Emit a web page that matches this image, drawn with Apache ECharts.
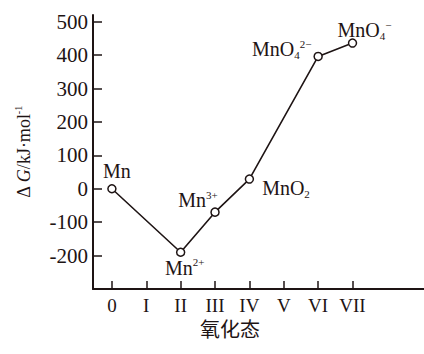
<!DOCTYPE html>
<html><head><meta charset="utf-8">
<script src="https://cdn.jsdelivr.net/npm/echarts@6/dist/echarts.min.js"></script>
<style>html,body{margin:0;padding:0;background:#fff}#c{width:424px;height:354px}</style>
</head><body><div id="c"></div>
<script>
const oxidationStates = [0, 2, 3, 4, 6, 7];
const deltaG = [0, -190, -70, 29, 396, 436];
const speciesLabels = [
  '{t|Mn}',
  '{t|Mn}{sup|2+}',
  '{t|Mn}{sup|3+}',
  '{t|MnO}{sub|2}',
  '{t|MnO}{sub|4}{sup|2−}',
  '{t|MnO}{sub|4}{sup|−}'
];
const xTickValues = [0, 1, 2, 3, 4, 5, 6, 7];
const xTickLabels = ['0', 'I', 'II', 'III', 'IV', 'V', 'VI', 'VII'];
const yTickValues = [-200, -100, 0, 100, 200, 300, 400, 500];

const ink = '#1e1414';
const serif = 'Liberation Serif';
const rich = {
  t: {fontFamily: serif, fontSize: 20, color: ink, lineHeight: 22},
  sup: {fontFamily: serif, fontSize: 11, color: ink, verticalAlign: 'top', lineHeight: 22},
  sub: {fontFamily: serif, fontSize: 11, color: ink, verticalAlign: 'bottom', lineHeight: 22}
};
const labelPlacement = [
  {position: 'top', distance: 2, offset: [5, 0]},
  {position: 'bottom', distance: 0, offset: [4, 0]},
  {position: 'top', distance: 0, offset: [-17, 4]},
  {position: 'right', distance: 8, offset: [0, 9]},
  {position: 'left', distance: 4, offset: [2, -7]},
  {position: 'top', distance: 0, offset: [12, 3]}
];

const chart = echarts.init(document.getElementById('c'), null, {renderer: 'svg'});
chart.setOption({
  animation: false,
  backgroundColor: '#fff',
  grid: {left: 93, right: 0, top: 15, bottom: 65},
  title: {
    text: '氧化态', left: 230, top: 318, textAlign: 'center', padding: 0,
    textStyle: {fontFamily: 'Noto Sans CJK SC', fontSize: 20, fontWeight: 'normal', color: ink, lineHeight: 20}
  },
  xAxis: {
    type: 'value', min: -0.55, max: 9.08,
    axisLine: {show: true, onZero: false, lineStyle: {color: ink, width: 2}},
    axisTick: {show: true, inside: true, length: 8, customValues: xTickValues, lineStyle: {color: ink, width: 1.5}},
    axisLabel: {
      customValues: xTickValues, margin: 8, lineHeight: 16,
      fontFamily: serif, fontSize: 19, color: ink,
      formatter: v => xTickLabels[xTickValues.indexOf(Math.round(v))] || ''
    },
    splitLine: {show: false}
  },
  yAxis: {
    type: 'value', min: -300, max: 520,
    name: '{a|Δ }{i|G}{a|/kJ·mol}{s|-1}',
    nameLocation: 'middle', nameRotate: 90, nameGap: 58,
    nameTextStyle: {
      rich: {
        a: {fontFamily: serif, fontSize: 18, color: ink, lineHeight: 22},
        i: {fontFamily: serif, fontSize: 18, fontStyle: 'italic', color: ink, lineHeight: 22},
        s: {fontFamily: serif, fontSize: 10, color: ink, verticalAlign: 'top', lineHeight: 22}
      }
    },
    axisLine: {show: true, onZero: false, lineStyle: {color: ink, width: 2}},
    axisTick: {show: true, inside: true, length: 9, customValues: yTickValues, lineStyle: {color: ink, width: 1.5}},
    axisLabel: {
      customValues: yTickValues, margin: 5,
      fontFamily: serif, fontSize: 21, color: ink
    },
    splitLine: {show: false}
  },
  series: [{
    type: 'line',
    data: oxidationStates.map((x, i) => ({
      value: [x, deltaG[i]],
      label: Object.assign({show: true, formatter: speciesLabels[i], rich: rich}, labelPlacement[i])
    })),
    symbol: 'circle', symbolSize: 8,
    itemStyle: {color: '#fff', borderColor: ink, borderWidth: 1.5},
    lineStyle: {color: ink, width: 1.6},
    z: 3
  }]
});
</script></body></html>
